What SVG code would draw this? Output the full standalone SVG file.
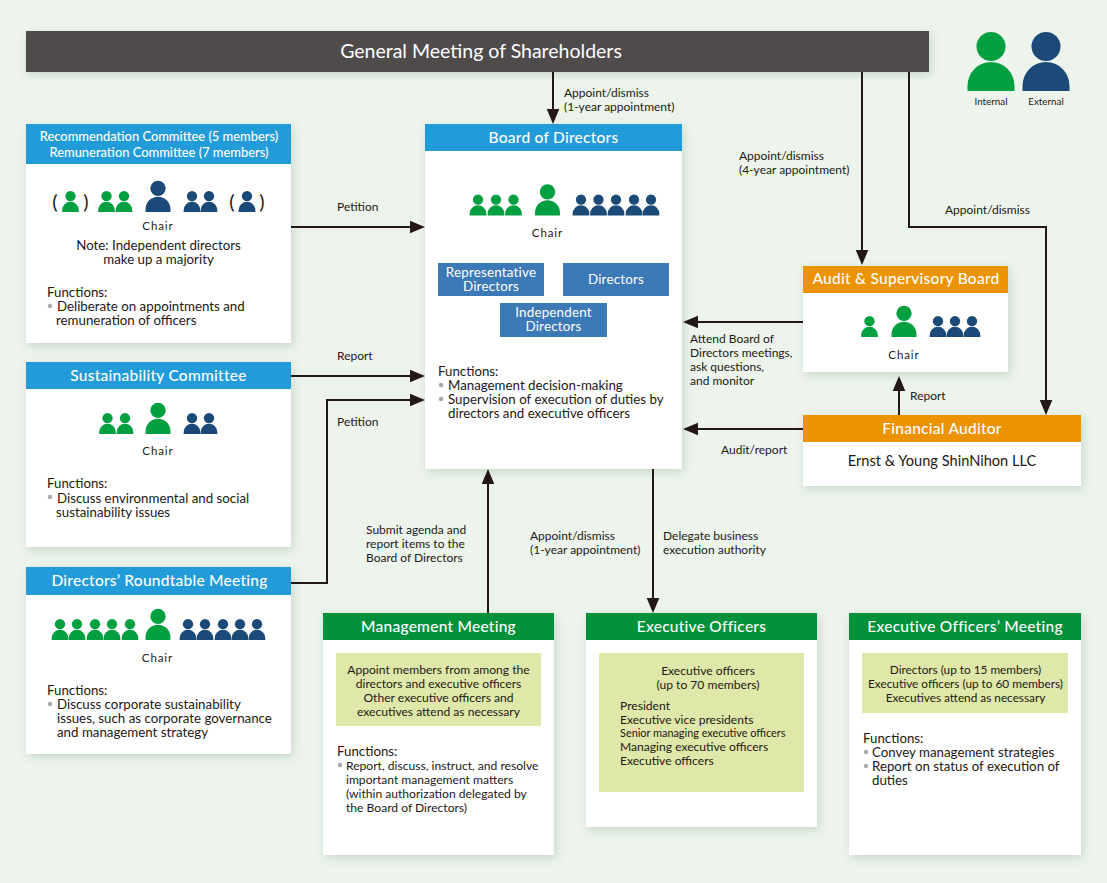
<svg xmlns="http://www.w3.org/2000/svg" width="1107" height="883" viewBox="0 0 1107 883">
<style>
text{font-family:"Lato","Liberation Sans",sans-serif;fill:#231815;font-size:13.300px}
.s{font-size:12.100px}
.h{fill:#fff;font-size:15.500px;font-weight:500;text-anchor:middle;letter-spacing:.25px}
.hs{fill:#fff;font-size:12.900px;text-anchor:middle;font-weight:500}
.c{text-anchor:middle}
.chair{text-anchor:middle;font-size:11.500px;letter-spacing:.9px}
.l{font-size:12px}
.paren{text-anchor:middle;font-size:20px;font-weight:400}
.leg{text-anchor:middle;font-size:9.800px}
.box{fill:#fff;filter:url(#sh)}
.blue{fill:#229bd9}.green{fill:#00913a}.orange{fill:#eb9300}.tile{fill:#3b79b7}.pale{fill:#dfe8a9}
.i{fill:#00a040}.e{fill:#1b4a78}
.b{fill:#a8a8a8}
.w{fill:#fff;text-anchor:middle;font-size:13.400px;letter-spacing:.2px}
#connectors path{fill:none;stroke:#231815;stroke-width:2;marker-end:url(#arrow)}
</style>
<defs>
<filter id="sh" x="-10%" y="-10%" width="125%" height="125%"><feDropShadow dx="2" dy="3" stdDeviation="5" flood-color="#6a8a70" flood-opacity=".28"/></filter>
<marker id="arrow" markerUnits="userSpaceOnUse" markerWidth="16" markerHeight="14" refX="13" refY="7" orient="auto"><path d="M0 .7L15 7L0 13.300z" fill="#231815"/></marker>
<g id="p"><circle cx="0" cy="-44.500" r="14.500"/><path d="M-23.500 0v-5a23.500 24 0 0 1 47 0v5z"/></g>
<g id="p1"><use href="#p" transform="scale(.53)"/></g>
<g id="p2"><use href="#p" transform="scale(.355)"/></g>
</defs>
<rect width="1107" height="883" fill="#ecf4ec"/>

<g id="general-meeting"><rect x="26" y="31" width="903" height="41" fill="#4f4c4c" filter="url(#sh)"/><text x="481" y="58" style="fill:#fff;font-size:19.500px;text-anchor:middle">General Meeting of Shareholders</text></g>

<g id="legend">
<use href="#p" class="i" x="991" y="91"/><use href="#p" class="e" x="1046" y="91"/>
<text x="991" y="105" class="leg">Internal</text><text x="1046" y="105" class="leg">External</text>
</g>

<g id="recommendation-committee">
<rect class="box" x="26" y="124" width="265" height="219"/><rect class="blue" x="26" y="124" width="265" height="40"/>
<text class="hs" x="159" y="141">Recommendation Committee (5 members)</text><text class="hs" x="159" y="156.500">Remuneration Committee (7 members)</text>
<text x="55" y="209" class="paren">(</text><use href="#p2" class="i" x="70.500" y="212"/><text x="86" y="209" class="paren">)</text>
<use href="#p2" class="i" x="106.500" y="212"/><use href="#p2" class="i" x="124" y="212"/><use href="#p1" class="e" x="158" y="212"/><use href="#p2" class="e" x="192" y="212"/><use href="#p2" class="e" x="209" y="212"/>
<text x="232" y="209" class="paren">(</text><use href="#p2" class="e" x="247" y="212"/><text x="262" y="209" class="paren">)</text>
<text class="chair" x="158" y="230">Chair</text>
<text class="c" x="158.500" y="250">Note: Independent directors</text><text class="c" x="158.500" y="264">make up a majority</text>
<text x="47" y="297">Functions:</text><circle class="b" cx="50" cy="306" r="2.200"/><text x="57" y="311">Deliberate on appointments and</text><text x="56" y="325">remuneration of officers</text>
</g>

<g id="sustainability-committee">
<rect class="box" x="26" y="362" width="265" height="185"/><rect class="blue" x="26" y="362" width="265" height="27"/>
<text class="h" x="158.500" y="381">Sustainability Committee</text>
<use href="#p2" class="i" x="107.500" y="434"/><use href="#p2" class="i" x="125" y="434"/><use href="#p1" class="i" x="158" y="434"/><use href="#p2" class="e" x="192" y="434"/><use href="#p2" class="e" x="209" y="434"/>
<text class="chair" x="158" y="455">Chair</text>
<text x="47" y="488">Functions:</text><circle class="b" cx="50" cy="497" r="2.200"/><text x="57" y="503">Discuss environmental and social</text><text x="56" y="517">sustainability issues</text>
</g>

<g id="roundtable-meeting">
<rect class="box" x="26" y="567" width="265" height="187"/><rect class="blue" x="26" y="567" width="265" height="28"/>
<text class="h" x="159.500" y="586">Directors’ Roundtable Meeting</text>
<use href="#p2" class="i" x="60" y="640"/><use href="#p2" class="i" x="77" y="640"/><use href="#p2" class="i" x="95" y="640"/><use href="#p2" class="i" x="112" y="640"/><use href="#p2" class="i" x="130" y="640"/><use href="#p1" class="i" x="158" y="640"/><use href="#p2" class="e" x="188" y="640"/><use href="#p2" class="e" x="205" y="640"/><use href="#p2" class="e" x="223" y="640"/><use href="#p2" class="e" x="240" y="640"/><use href="#p2" class="e" x="257" y="640"/>
<text class="chair" x="157.500" y="662">Chair</text>
<text x="47" y="695">Functions:</text><circle class="b" cx="50" cy="704" r="2.200"/><text x="57" y="709">Discuss corporate sustainability</text><text x="57" y="723">issues, such as corporate governance</text><text x="57" y="737">and management strategy</text>
</g>

<g id="board-of-directors">
<rect class="box" x="425" y="124" width="257" height="345"/><rect class="blue" x="425" y="124" width="257" height="27"/>
<text class="h" x="553.500" y="143">Board of Directors</text>
<use href="#p2" class="i" x="478" y="215.500"/><use href="#p2" class="i" x="496" y="215.500"/><use href="#p2" class="i" x="513.500" y="215.500"/><use href="#p1" class="i" x="547.500" y="215.500"/><use href="#p2" class="e" x="581" y="215.500"/><use href="#p2" class="e" x="598.500" y="215.500"/><use href="#p2" class="e" x="616" y="215.500"/><use href="#p2" class="e" x="634" y="215.500"/><use href="#p2" class="e" x="651" y="215.500"/>
<text class="chair" x="547.500" y="237">Chair</text>
<rect class="tile" x="438" y="263" width="106" height="33"/><text class="w" x="491" y="277">Representative</text><text class="w" x="491" y="291">Directors</text>
<rect class="tile" x="563" y="263" width="106" height="33"/><text class="w" x="616" y="284">Directors</text>
<rect class="tile" x="500" y="303" width="107" height="34"/><text class="w" x="553.500" y="317">Independent</text><text class="w" x="553.500" y="331">Directors</text>
<text x="438" y="376">Functions:</text><circle class="b" cx="441" cy="385" r="2.200"/><text x="448" y="390">Management decision-making</text><circle class="b" cx="441" cy="399" r="2.200"/><text x="448" y="404">Supervision of execution of duties by</text><text x="448" y="418">directors and executive officers</text>
</g>

<g id="audit-board">
<rect class="box" x="803" y="266" width="205" height="106"/><rect class="orange" x="803" y="266" width="205" height="27"/>
<text class="h" x="906" y="284">Audit &amp; Supervisory Board</text>
<use href="#p2" class="i" x="869.500" y="337"/><use href="#p1" class="i" x="904" y="337"/><use href="#p2" class="e" x="938" y="337"/><use href="#p2" class="e" x="955" y="337"/><use href="#p2" class="e" x="972" y="337"/>
<text class="chair" x="904" y="359">Chair</text>
</g>

<g id="financial-auditor">
<rect class="box" x="803" y="415" width="278" height="71"/><rect class="orange" x="803" y="415" width="278" height="27"/>
<text class="h" x="942" y="434">Financial Auditor</text>
<text class="c" x="942" y="466" style="font-size:14.600px">Ernst &amp; Young ShinNihon LLC</text>
</g>

<g id="management-meeting">
<rect class="box" x="323" y="613" width="231" height="242"/><rect class="green" x="323" y="613" width="231" height="27"/>
<text class="h" x="438.500" y="632">Management Meeting</text>
<rect class="pale" x="336" y="653" width="205" height="73"/>
<text class="c s" x="438.500" y="674">Appoint members from among the</text><text class="c s" x="438.500" y="688">directors and executive officers</text><text class="c s" x="438.500" y="702">Other executive officers and</text><text class="c s" x="438.500" y="716">executives attend as necessary</text>
<text x="337" y="756">Functions:</text><circle class="b" cx="340" cy="765" r="2.200"/><text class="s" x="346" y="770">Report, discuss, instruct, and resolve</text><text class="s" x="346" y="784">important management matters</text><text class="s" x="346" y="798">(within authorization delegated by</text><text class="s" x="346" y="812">the Board of Directors)</text>
</g>

<g id="executive-officers">
<rect class="box" x="586" y="613" width="231" height="214"/><rect class="green" x="586" y="613" width="231" height="27"/>
<text class="h" x="701.500" y="632">Executive Officers</text>
<rect class="pale" x="599" y="653" width="205" height="139"/>
<text class="c s" x="708" y="675">Executive officers</text><text class="c s" x="708" y="689">(up to 70 members)</text>
<text class="s" x="620" y="710">President</text><text class="s" x="620" y="723.500">Executive vice presidents</text><text x="620" y="737" style="font-size:10.900px">Senior managing executive officers</text><text class="s" x="620" y="751">Managing executive officers</text><text class="s" x="620" y="765">Executive officers</text>
</g>

<g id="executive-officers-meeting">
<rect class="box" x="849" y="613" width="232" height="242"/><rect class="green" x="849" y="613" width="232" height="27"/>
<text class="h" x="965" y="632">Executive Officers’ Meeting</text>
<rect class="pale" x="862" y="653" width="206" height="60"/>
<text class="c" x="965.500" y="674" style="font-size:11.800px">Directors (up to 15 members)</text><text class="c" x="965.500" y="688" style="font-size:11.800px">Executive officers (up to 60 members)</text><text class="c" x="965.500" y="702" style="font-size:11.800px">Executives attend as necessary</text>
<text x="863" y="743">Functions:</text><circle class="b" cx="866" cy="752" r="2.200"/><text x="872" y="757">Convey management strategies</text><circle class="b" cx="866" cy="766" r="2.200"/><text x="872" y="771">Report on status of execution of</text><text x="872" y="785">duties</text>
</g>

<g id="connectors">
<path d="M553 72V122"/>
<path d="M862 72V263"/>
<path d="M909 72V227H1046V413"/>
<path d="M291 227H423"/>
<path d="M291 376H423"/>
<path d="M291 583H327V400H423"/>
<path d="M488 613V471"/>
<path d="M653 469V611"/>
<path d="M803 322H685"/>
<path d="M803 429H685"/>
<path d="M899 415V378"/>
</g>

<g id="connector-labels">
<text class="l" x="564" y="97">Appoint/dismiss</text><text class="l" x="564" y="111">(1-year appointment)</text>
<text class="l" x="739" y="160">Appoint/dismiss</text><text class="l" x="739" y="174">(4-year appointment)</text>
<text class="l" x="945" y="214">Appoint/dismiss</text>
<text class="l" x="337" y="211">Petition</text>
<text class="l" x="337" y="360">Report</text>
<text class="l" x="337" y="426">Petition</text>
<text class="l" x="366" y="534">Submit agenda and</text><text class="l" x="366" y="548">report items to the</text><text class="l" x="366" y="562">Board of Directors</text>
<text class="l" x="530" y="540">Appoint/dismiss</text><text class="l" x="530" y="554">(1-year appointment)</text>
<text class="l" x="663" y="540">Delegate business</text><text class="l" x="663" y="554">execution authority</text>
<text class="l" x="690" y="343">Attend Board of</text><text class="l" x="690" y="357">Directors meetings,</text><text class="l" x="690" y="371">ask questions,</text><text class="l" x="690" y="385">and monitor</text>
<text class="l" x="910" y="400">Report</text>
<text class="l" x="721" y="454">Audit/report</text>
</g>
</svg>
